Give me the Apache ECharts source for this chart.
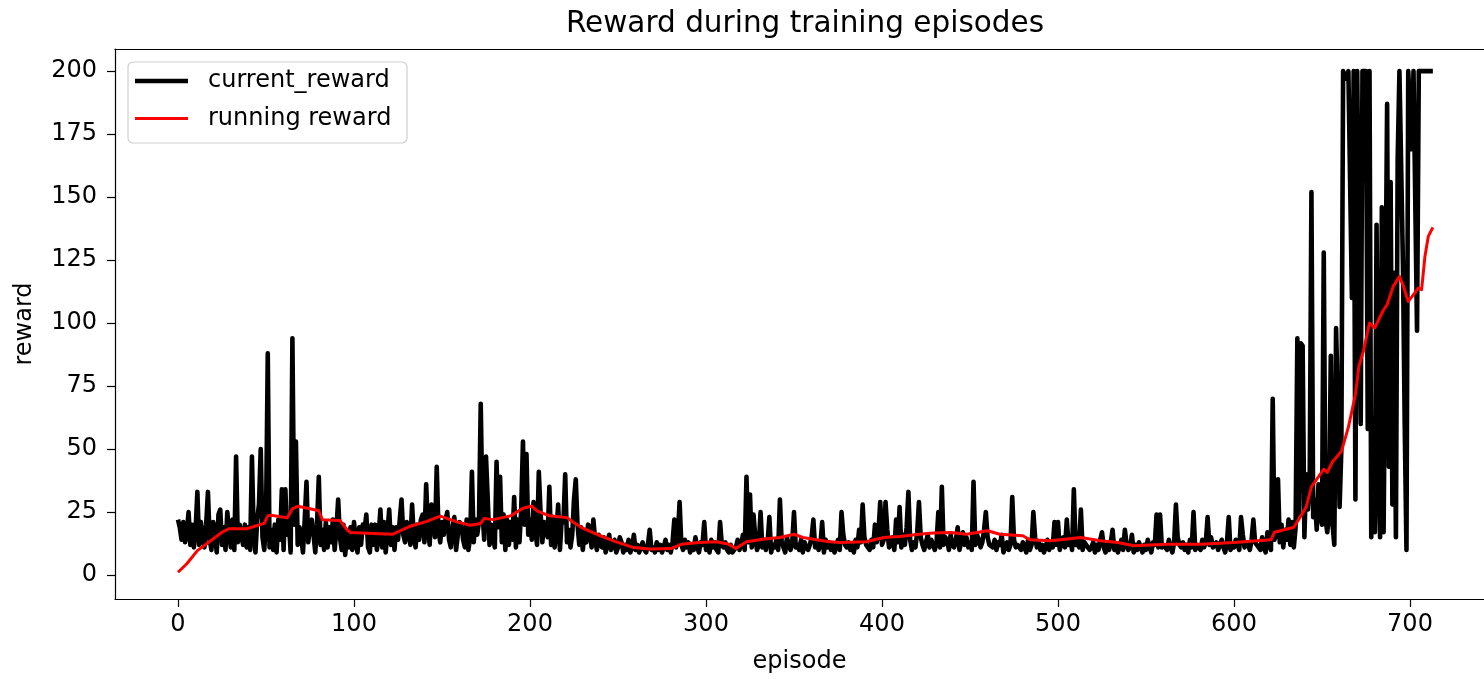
<!DOCTYPE html>
<html><head><meta charset="utf-8">
<script src="https://cdn.jsdelivr.net/npm/echarts@6/dist/echarts.min.js"></script>
<style>html,body{margin:0;padding:0;background:#fff}#c{width:1484px;height:679px}</style>
</head><body><div id="c"></div>
<script>
// current_reward, one value per episode (0..713)
const currentReward = [
22,19,14,21,13,17,25,12,20,11,
18,33,12,21,15,11,20,33,14,10,
21,17,9,24,26,12,19,10,25,18,
11,22,10,47,13,20,16,12,20,11,
19,10,47,17,9,22,28,50,15,10,
21,88,11,18,10,20,9,22,14,34,
10,34,16,21,9,94,20,53,12,19,
15,9,22,37,13,19,22,16,9,20,
39,12,18,10,21,11,19,13,22,10,
18,30,15,10,20,8,17,11,19,10,
21,13,9,19,12,20,18,24,11,9,
20,12,20,10,16,26,11,21,9,17,
26,12,19,10,19,14,22,30,16,13,
21,18,12,28,15,11,20,14,22,24,
13,36,19,12,28,22,15,43,18,13,
21,16,22,25,14,11,19,23,10,16,
21,20,14,11,22,10,15,41,13,22,
16,21,68,25,14,47,30,12,20,15,
11,45,19,39,13,24,10,22,12,21,
14,31,11,22,13,26,53,20,48,16,
22,14,29,18,12,41,25,13,21,20,
15,35,12,23,11,17,28,10,22,21,
40,13,18,11,16,30,38,20,12,19,
10,17,13,20,19,11,22,14,10,16,
12,11,15,9,13,16,10,12,14,9,
11,15,13,9,12,10,14,9,11,16,
10,12,9,11,13,10,9,12,18,10,
11,9,13,10,12,9,11,14,10,12,
9,13,22,11,16,29,12,10,14,11,
13,9,12,10,15,11,9,13,12,21,
10,12,9,14,11,13,10,9,21,12,
11,13,10,9,12,9,10,11,14,10,
12,16,10,39,13,32,11,24,15,10,
12,25,11,14,10,13,23,9,12,11,
14,10,30,13,11,9,15,12,10,13,
25,11,12,10,14,9,13,11,10,12,
15,22,11,13,10,12,21,9,14,11,
13,10,12,9,11,14,10,25,16,12,
11,13,10,12,9,14,11,18,13,28,
15,12,12,10,14,11,20,13,17,29,
12,14,29,18,11,12,15,10,22,13,
27,11,16,12,19,33,14,10,13,11,
17,29,15,12,10,13,16,11,14,12,
10,13,25,11,35,12,15,14,10,16,
12,11,14,19,10,13,17,12,15,11,
13,10,37,12,16,14,11,13,18,25,
15,12,12,11,14,10,13,12,16,9,
11,13,10,12,31,14,11,12,12,10,
13,11,9,14,10,12,25,15,11,13,
10,12,9,11,14,10,13,11,21,12,
21,10,13,15,11,22,12,14,10,34,
12,13,11,26,10,13,12,12,10,11,
13,9,12,10,14,17,11,9,12,10,
13,18,10,12,9,11,14,10,18,12,
10,11,16,9,12,10,13,11,9,12,
10,14,11,9,13,12,24,11,24,11,
12,12,10,14,11,9,13,28,15,12,
11,13,10,12,9,14,11,25,10,12,
12,10,14,11,13,23,12,15,11,11,
13,10,12,14,11,9,13,23,10,12,
11,14,12,10,23,16,11,13,12,10,
14,22,13,12,12,10,15,11,9,17,
12,10,70,14,16,38,13,20,11,18,
14,22,12,21,11,19,94,24,92,91,
15,40,26,35,152,23,30,18,36,25,
20,128,22,17,24,87,20,12,98,68,
27,50,200,200,197,200,200,110,200,30,
200,200,60,200,200,200,58,200,15,62,
17,139,40,15,146,17,100,187,43,156,
28,120,15,165,200,200,123,60,10,200,
200,169,200,200,97,200,200,200,200,200,
200,200,200,200
];
// running reward, read at these episodes
const runningEpisodes = [0,5,11,18,25,29,39,49,51,53,62,65,68,75,80,82,92,96,98,111,122,132,141,149,158,166,172,174,179,189,196,201,204,211,221,225,230,240,249,259,268,280,286,296,306,313,317,323,333,342,350,355,369,376,391,401,410,421,429,439,448,460,467,480,484,496,513,524,534,543,562,581,600,621,623,634,638,641,644,651,653,656,661,665,669,671,673.5,677,680,685,687,690.5,694,696,699,702,704.7,706.6,708.5,710.4,713];
const runningReward = [1.1,4.5,9.7,13.3,17,18.4,18.4,20.5,23.5,23.7,22.7,26.3,27.3,26.3,25.5,22,21.7,18,16.9,16.5,16.2,19.4,21.2,23.4,21.2,19.8,20.5,22.5,22,23.5,26.5,27.4,25.5,23.5,22.8,20.8,18.6,15.6,13.2,10.9,10.3,10.5,12.2,12.9,13.2,12.2,10.6,13.2,14.3,14.9,16.2,14.9,13.3,12.9,13.2,14.9,15.3,16.2,16.7,16.9,16.2,17.6,16.2,15.6,14,13.6,14.9,13.6,12.9,11.6,12.2,12.2,12.9,14,17,19,23.5,27,35,42,40.7,45,49,58.7,71.6,83,88.8,100,98.1,105.3,107.3,114.6,118.5,115.2,108.6,111.3,113.9,113.3,126.5,134.4,138];
const xTicks = [0,100,200,300,400,500,600,700];
const yTicks = [0,25,50,75,100,125,150,175,200];
const titleText = 'Reward during training episodes';
const seriesNames = ['current_reward','running reward'];

const FONT = 'DejaVu Sans';
const X_MIN = -35.8, X_MAX = 742.05, Y_MIN = -9.5, Y_MAX = 208.8;
const chart = echarts.init(document.getElementById('c'), null, {renderer:'canvas'});
const labelStyle = {fontSize:24, color:'#000', fontFamily:FONT};
chart.setOption({
  animation:false,
  backgroundColor:'#fff',
  textStyle:{fontFamily:FONT},
  grid:{left:115, top:49, right:0, height:551, show:false},
  xAxis:[{
    type:'value', min:X_MIN, max:X_MAX, position:'bottom',
    name:'episode', nameLocation:'middle', nameGap:51,
    nameTextStyle:labelStyle,
    axisLine:{show:true, onZero:false, lineStyle:{color:'#000', width:1.2}},
    splitLine:{show:false},
    axisTick:{show:true, inside:false, length:8, customValues:xTicks, lineStyle:{color:'#000', width:1.2}},
    axisLabel:Object.assign({customValues:xTicks, margin:14}, labelStyle)
  },{
    type:'value', min:X_MIN, max:X_MAX, position:'top',
    axisLine:{show:true, onZero:false, lineStyle:{color:'#000', width:1.2}},
    axisTick:{show:false}, axisLabel:{show:false}, splitLine:{show:false}
  }],
  yAxis:{
    type:'value', min:Y_MIN, max:Y_MAX,
    name:'reward', nameLocation:'middle', nameGap:78,
    nameTextStyle:labelStyle,
    axisLine:{show:true, onZero:false, lineStyle:{color:'#000', width:1.2}},
    splitLine:{show:false},
    axisTick:{show:true, inside:false, length:8, customValues:yTicks, lineStyle:{color:'#000', width:1.2}},
    axisLabel:Object.assign({customValues:yTicks, margin:18}, labelStyle)
  },
  legend:[
    {data:[{name:seriesNames[0], icon:'rect'}], left:135, top:64, padding:0, itemWidth:53, itemHeight:4.6,
     itemStyle:{borderWidth:0}, selectedMode:false, z:10,
     textStyle:{fontSize:24, color:'#000', fontFamily:FONT, lineHeight:26, padding:[8,0,0,15]}},
    {data:[{name:seriesNames[1], icon:'rect'}], left:135, top:101.5, padding:0, itemWidth:53, itemHeight:3,
     itemStyle:{borderWidth:0}, selectedMode:false, z:10,
     textStyle:{fontSize:24, color:'#000', fontFamily:FONT, lineHeight:26, padding:[8,0,0,15]}}
  ],
  graphic:[
    {type:'rect', z:5, shape:{x:128, y:62, width:279, height:81, r:5},
     style:{fill:'rgba(255,255,255,0.8)', stroke:'#cfcfcf', lineWidth:1.2}},
    {type:'text', z:10, x:805, y:24,
     style:{text:titleText, fontSize:29.5, fontFamily:FONT, fill:'#000', align:'center', verticalAlign:'middle'}}
  ],
  series:[
    {name:seriesNames[0], type:'line', data:currentReward.map((v,i)=>[i,v]), symbol:'none', showSymbol:false,
     lineStyle:{color:'#000', width:4.6, join:'round'}, itemStyle:{color:'#000'}, z:2, silent:true},
    {name:seriesNames[1], type:'line', data:runningEpisodes.map((e,i)=>[e, runningReward[i]]), symbol:'none', showSymbol:false,
     lineStyle:{color:'#ff0000', width:3, join:'round'}, itemStyle:{color:'#ff0000'}, z:3, silent:true}
  ]
});
</script>
</body></html>
